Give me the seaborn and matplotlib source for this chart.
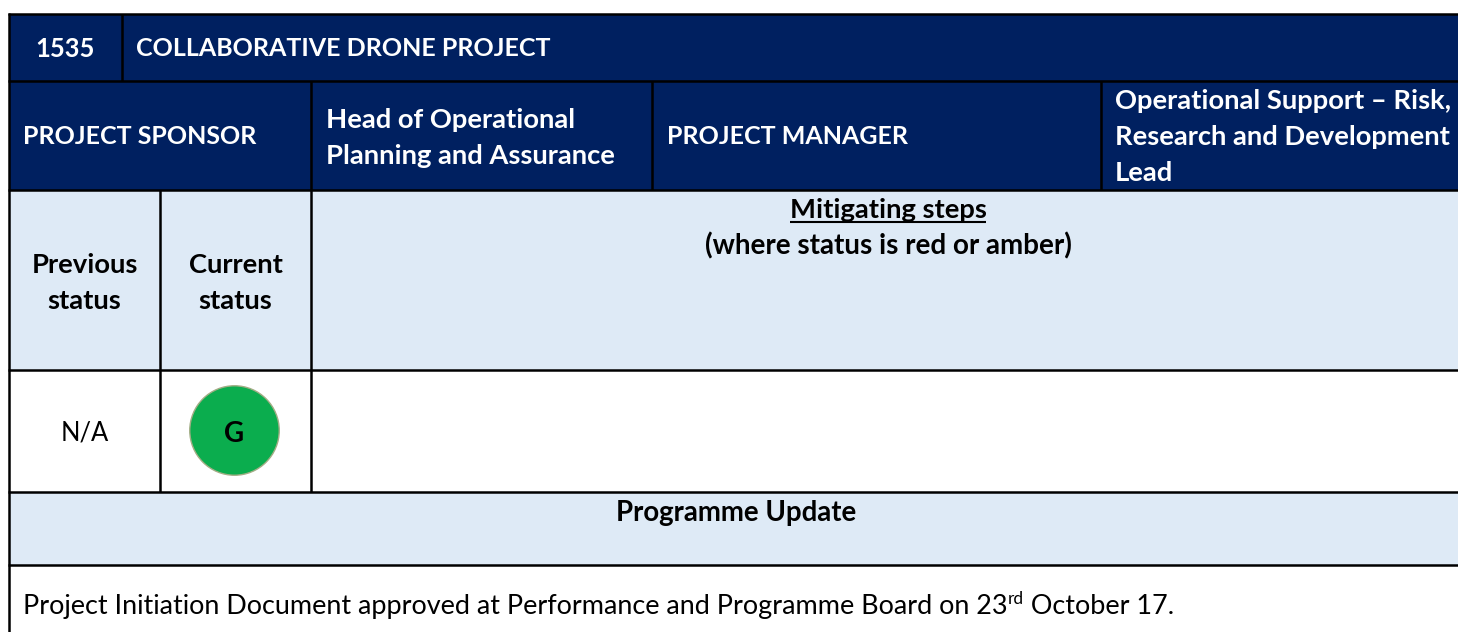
"""
Project status table: collaborative drone project, drawn on a pixel-sized axes.
"""

import matplotlib.pyplot as plt
import pandas as pd
import seaborn as sns
from matplotlib.patches import Rectangle

# ---------------------------------------------------------------------------
# Data
# ---------------------------------------------------------------------------
PROJECT_ID = "1535"
PROJECT_NAME = "COLLABORATIVE DRONE PROJECT"
SPONSOR_LABEL = "PROJECT SPONSOR"
SPONSOR_LINES = ["Head of Operational", "Planning and Assurance"]
MANAGER_LABEL = "PROJECT MANAGER"
MANAGER_LINES = ["Operational Support – Risk,", "Research and Development", "Lead"]
PREVIOUS_HEADER = ["Previous", "status"]
CURRENT_HEADER = ["Current", "status"]
MITIGATING_TITLE = "Mitigating steps"
MITIGATING_NOTE = "(where status is red or amber)"
PREVIOUS_STATUS = "N/A"
CURRENT_STATUS = ["G"]
UPDATE_TITLE = "Programme Update"
UPDATE_PARTS = ["Project Initiation Document approved at Performance and Programme Board on 23",
                "rd", " October 17."]

NAVY = "#002060"
LIGHT = "#DEEAF6"
GREEN = "#0BAD4E"

WIDTH, HEIGHT = 1458, 632
LEFT = 9
ROW_Y = [14, 81, 190, 370, 492, 565, 632]
CAPS_SIZE = 18
BODY_SIZE = 19.7
LINE_W = 1.8

sns.set_theme(style="white")
plt.rcParams["font.family"] = ["Lato", "DejaVu Sans"]


def put(ax, x, y, s, bold=True, color="black", ha="left", size=BODY_SIZE):
    return ax.text(x, y, s, color=color, ha=ha, va="center", fontsize=size,
                   fontweight="bold" if bold else "normal", zorder=4)


def main():
    fig = plt.figure(figsize=(WIDTH / 100, HEIGHT / 100), dpi=100)
    ax = fig.add_axes([0, 0, 1, 1])
    ax.set_xlim(0, WIDTH)
    ax.set_ylim(HEIGHT, 0)
    ax.axis("off")

    # --- Row fills ---
    fills = [NAVY, NAVY, LIGHT, "white", LIGHT, "white"]
    for i, fill in enumerate(fills):
        ax.add_patch(Rectangle((LEFT, ROW_Y[i]), WIDTH - LEFT, ROW_Y[i + 1] - ROW_Y[i],
                               facecolor=fill, edgecolor="none", zorder=1))

    # --- Grid lines ---
    for y in ROW_Y[:-1]:
        ax.plot([LEFT - 1, WIDTH], [y, y], color="black", lw=LINE_W, zorder=2,
                solid_capstyle="butt")
    verticals = [(LEFT, 13, HEIGHT), (122, 14, 81), (311, 81, 492), (652, 81, 190),
                 (1101, 81, 190), (160, 190, 492)]
    for x, y0, y1 in verticals:
        ax.plot([x, x], [y0, y1], color="black", lw=LINE_W, zorder=2, solid_capstyle="butt")

    # --- Status marker ---
    status = pd.DataFrame({"x": [234.5], "y": [430], "status": CURRENT_STATUS})
    sns.scatterplot(data=status, x="x", y="y", s=4150, color=GREEN, edgecolor="#A3AD85",
                    linewidth=1, legend=False, ax=ax, zorder=3, clip_on=False)
    ax.set_xlabel("")
    ax.set_ylabel("")
    put(ax, 234.5, 434, CURRENT_STATUS[0], ha="center", size=20)

    # --- Header text ---
    put(ax, 65.5, 49, PROJECT_ID, color="white", ha="center", size=18.4)
    put(ax, 136, 49, PROJECT_NAME, color="white", size=CAPS_SIZE)
    put(ax, 23, 137, SPONSOR_LABEL, color="white", size=CAPS_SIZE)
    for line, y in zip(SPONSOR_LINES, [120, 156]):
        put(ax, 326, y, line, color="white")
    put(ax, 667, 137, MANAGER_LABEL, color="white", size=CAPS_SIZE)
    for line, y in zip(MANAGER_LINES, [101, 137, 173]):
        put(ax, 1115, y, line, color="white")

    # --- Status header row ---
    for line, y in zip(PREVIOUS_HEADER, [265, 301]):
        put(ax, 84.5, y, line, ha="center")
    for line, y in zip(CURRENT_HEADER, [265, 301]):
        put(ax, 235.5, y, line, ha="center")
    title = put(ax, 888, 210, MITIGATING_TITLE, ha="center")
    put(ax, 888, 246, MITIGATING_NOTE, ha="center", size=20)
    fig.canvas.draw()
    box = title.get_window_extent()
    ax.plot([box.x0, box.x1], [222, 222], color="black", lw=1.5, zorder=4, solid_capstyle="butt")

    # --- Status row and update ---
    put(ax, 84.5, 433, PREVIOUS_STATUS, bold=False, ha="center", size=18.4)
    put(ax, 736.5, 513, UPDATE_TITLE, ha="center", size=19.9)

    # The ordinal suffix is a smaller raised run, so each part starts where the last ended
    x = 23
    for part, y, size in zip(UPDATE_PARTS, [604, 597, 604], [19.48, 12.5, 19.48]):
        t = ax.text(x, y, part, fontsize=size, color="black", ha="left", va="center_baseline",
                    zorder=4)
        fig.canvas.draw()
        x = t.get_window_extent().x1

    fig.savefig("out.png", dpi=100)
    plt.close(fig)


if __name__ == "__main__":
    main()
